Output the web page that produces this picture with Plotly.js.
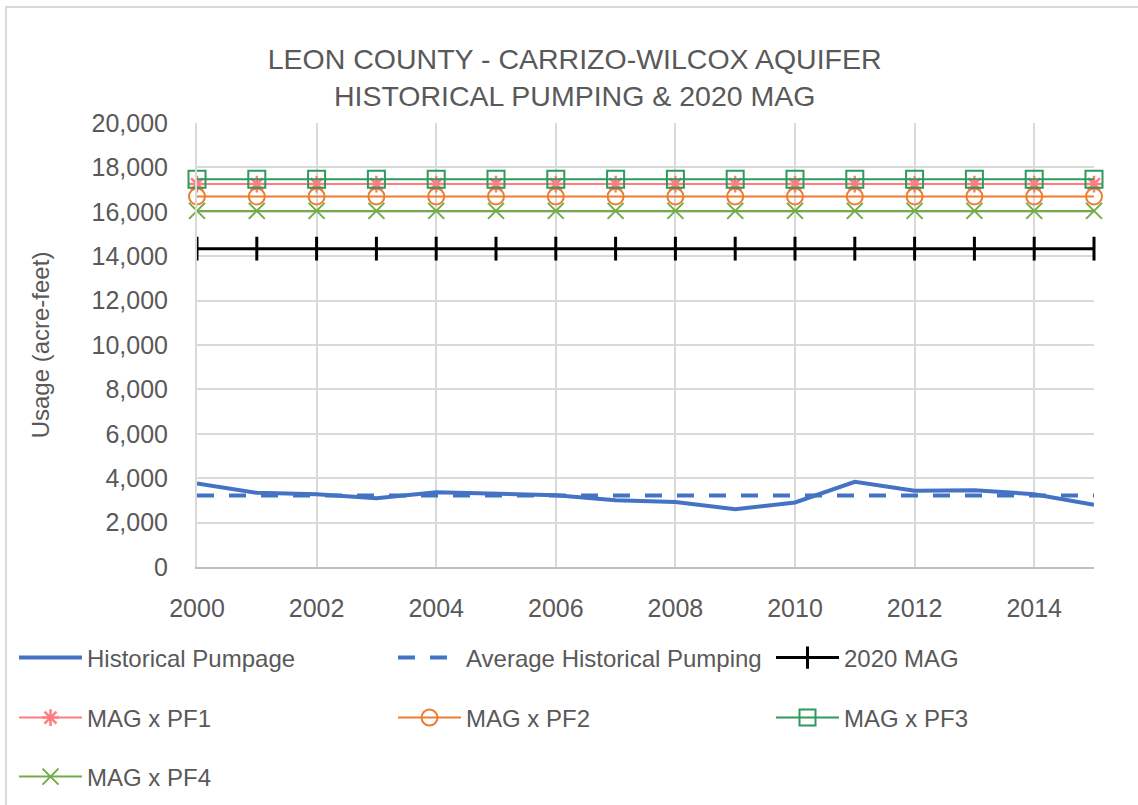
<!DOCTYPE html>
<html>
<head>
<meta charset="utf-8">
<script src="https://cdn.plot.ly/plotly-3.0.1.min.js"></script>
<style>
  html, body { margin: 0; padding: 0; background: #fff; }
  #wrap { position: relative; width: 1138px; height: 805px; }
  #chart { width: 1138px; height: 805px; }
  #frame { position: absolute; left: 5px; top: 6px; right: 0; bottom: 0;
           border-left: 2px solid #d9d9d9; border-top: 2px solid #d9d9d9; pointer-events: none; }
</style>
</head>
<body>
<div id="wrap"><div id="chart"></div><div id="frame"></div></div>
<script>
// ---- data ----
const years = [2000, 2001, 2002, 2003, 2004, 2005, 2006, 2007, 2008, 2009, 2010, 2011, 2012, 2013, 2014, 2015];
const historicalPumpage = [3757, 3340, 3280, 3100, 3370, 3310, 3235, 3010, 2930, 2605, 2905, 3835, 3430, 3460, 3280, 2800];
const averageHistorical = [3220, 3220, 3220, 3220, 3220, 3220, 3220, 3220, 3220, 3220, 3220, 3220, 3220, 3220, 3220, 3220];
const mag2020 = [14340, 14340, 14340, 14340, 14340, 14340, 14340, 14340, 14340, 14340, 14340, 14340, 14340, 14340, 14340, 14340];
const magPF1 = [17250, 17250, 17250, 17250, 17250, 17250, 17250, 17250, 17250, 17250, 17250, 17250, 17250, 17250, 17250, 17250];
const magPF2 = [16690, 16690, 16690, 16690, 16690, 16690, 16690, 16690, 16690, 16690, 16690, 16690, 16690, 16690, 16690, 16690];
const magPF3 = [17470, 17470, 17470, 17470, 17470, 17470, 17470, 17470, 17470, 17470, 17470, 17470, 17470, 17470, 17470, 17470];
const magPF4 = [16040, 16040, 16040, 16040, 16040, 16040, 16040, 16040, 16040, 16040, 16040, 16040, 16040, 16040, 16040, 16040];
const seriesNames = ["Historical Pumpage", "Average Historical Pumping", "2020 MAG", "MAG x PF1", "MAG x PF2", "MAG x PF3", "MAG x PF4"];
const titleLines = ["LEON COUNTY - CARRIZO-WILCOX AQUIFER", "HISTORICAL PUMPING & 2020 MAG"];
const yTitle = "Usage (acre-feet)";

const FONT = "Liberation Sans, Arial, sans-serif";
const GREY = "#595959";

const traces = [
  { x: years, y: historicalPumpage, name: seriesNames[0], mode: "lines", legend: "legend",
    line: { color: "#4472c4", width: 4 } },
  { x: years, y: averageHistorical, name: seriesNames[1], mode: "lines", legend: "legend2",
    line: { color: "#4472c4", width: 4, dash: "17px,15px" } },
  { x: years, y: mag2020, name: seriesNames[2], mode: "lines+markers", legend: "legend3",
    line: { color: "#000000", width: 3 },
    marker: { symbol: "line-ns-open", size: 17, line: { color: "#000000", width: 3 } } },
  { x: years, y: magPF1, name: seriesNames[3], mode: "lines+markers", legend: "legend4",
    line: { color: "#ff7c80", width: 2 },
    marker: { symbol: "asterisk-open", size: 14, line: { color: "#ff7c80", width: 2.5 } } },
  { x: years, y: magPF2, name: seriesNames[4], mode: "lines+markers", legend: "legend5",
    line: { color: "#ed7d31", width: 2 },
    marker: { symbol: "circle-open", size: 16, line: { color: "#ed7d31", width: 2 } } },
  { x: years, y: magPF3, name: seriesNames[5], mode: "lines+markers", legend: "legend6",
    line: { color: "#2e9a5c", width: 2 },
    marker: { symbol: "square-open", size: 17, line: { color: "#2e9a5c", width: 2 } } },
  { x: years, y: magPF4, name: seriesNames[6], mode: "lines+markers", legend: "legend7",
    line: { color: "#70ad47", width: 2 },
    marker: { symbol: "x-thin-open", size: 16, line: { color: "#70ad47", width: 2 } } }
];
traces.forEach(t => { t.cliponaxis = false; });

// legend grid: 3 columns x 3 rows (pixel anchors in the 1138x805 page)
const legCols = [14, 393, 771];
const legRows = [658, 718, 777];
function legendCfg(col, row) {
  return {
    orientation: "h", xref: "container", yref: "container",
    x: legCols[col] / 1138, y: 1 - legRows[row] / 805,
    xanchor: "left", yanchor: "middle",
    font: { family: FONT, size: 24, color: GREY },
    itemwidth: 63, bgcolor: "rgba(0,0,0,0)"
  };
}

const layout = {
  width: 1138, height: 805,
  margin: { l: 197, r: 44, t: 123, b: 238 },
  paper_bgcolor: "#ffffff", plot_bgcolor: "#ffffff",
  font: { family: FONT, color: GREY },
  title: { text: titleLines.join("<br>"), x: 0.505, xanchor: "center", y: 1 - 69 / 805, yanchor: "middle",
           font: { family: FONT, size: 28.5, color: GREY } },
  xaxis: {
    range: [2000, 2015], tickmode: "linear", tick0: 2000, dtick: 2,
    showgrid: true, gridcolor: "#d9d9d9", gridwidth: 2,
    showline: true, linecolor: "#bfbfbf", linewidth: 2,
    zeroline: false, ticks: "", ticklabelstandoff: 18,
    tickfont: { family: FONT, size: 25, color: GREY }, fixedrange: true
  },
  yaxis: {
    range: [0, 20000], tickmode: "linear", tick0: 0, dtick: 2000, tickformat: ",d",
    showgrid: true, gridcolor: "#d9d9d9", gridwidth: 2,
    showline: true, linecolor: "#d9d9d9", linewidth: 2,
    zeroline: false, ticks: "", ticklabelstandoff: 22,
    tickfont: { family: FONT, size: 25, color: GREY },
    title: { text: yTitle, font: { family: FONT, size: 24, color: GREY }, standoff: 35 },
    automargin: false, fixedrange: true
  },
  legend: legendCfg(0, 0),
  legend2: legendCfg(1, 0),
  legend3: legendCfg(2, 0),
  legend4: legendCfg(0, 1),
  legend5: legendCfg(1, 1),
  legend6: legendCfg(2, 1),
  legend7: legendCfg(0, 2),
  showlegend: true
};

Plotly.newPlot("chart", traces, layout, { displayModeBar: false, staticPlot: true });
</script>
</body>
</html>
